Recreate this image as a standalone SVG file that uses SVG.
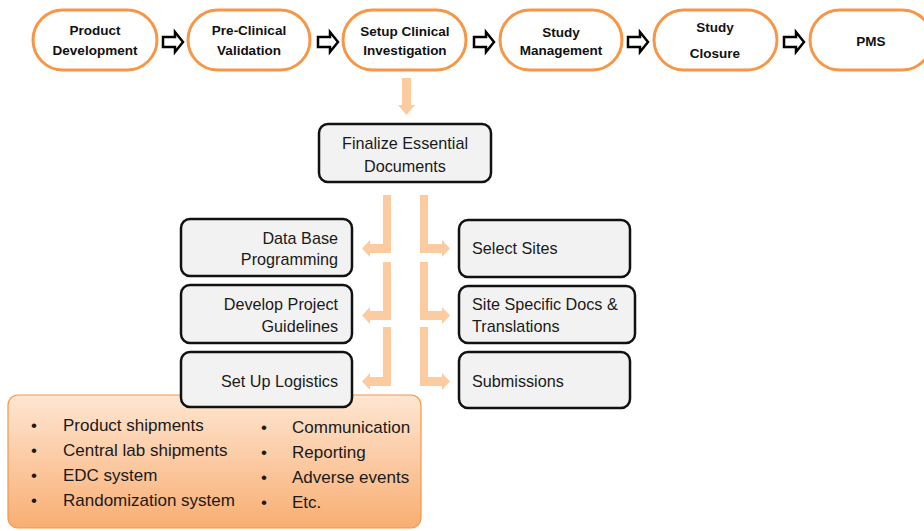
<svg xmlns="http://www.w3.org/2000/svg" width="924" height="531" viewBox="0 0 924 531">
<style>
.pill{fill:#fff;stroke:#F79646;stroke-width:3}
.pt{font-family:"Liberation Sans",Arial,sans-serif;font-weight:bold;font-size:13.5px;fill:#111;text-anchor:middle}
.box{fill:#F2F2F2;stroke:#111;stroke-width:2.5}
.bt{font-family:"Liberation Sans",Arial,sans-serif;font-size:16.2px;fill:#1a1a1a}
.harr{fill:#fff;stroke:#000;stroke-width:2.5;stroke-linejoin:miter}
.oarr{fill:#FDCBA0}
.lt{font-family:"Liberation Sans",Arial,sans-serif;font-size:17px;fill:#1a1a1a}
</style>
<defs>
<linearGradient id="og" x1="0" y1="0" x2="0" y2="1">
<stop offset="0" stop-color="#FEE6D2"/>
<stop offset="1" stop-color="#F9AE72"/>
</linearGradient>
<path id="ha" d="M0,-5 L12,-5 L12,-10 L20,0 L12,10 L12,5 L0,5 Z"/>
</defs>

<g id="n-product-development"><rect class="pill" x="33" y="10" width="124" height="60" rx="30"/><text class="pt" x="95" y="35">Product</text><text class="pt" x="95" y="55">Development</text></g>
<g id="n-preclinical"><rect class="pill" x="188" y="10" width="122" height="60" rx="30"/><text class="pt" x="249" y="35">Pre-Clinical</text><text class="pt" x="249" y="55">Validation</text></g>
<g id="n-setup"><rect class="pill" x="343" y="10" width="123" height="60" rx="30"/><text class="pt" x="405" y="36">Setup Clinical</text><text class="pt" x="405" y="55">Investigation</text></g>
<g id="n-study-management"><rect class="pill" x="500" y="10" width="122" height="60" rx="30"/><text class="pt" x="561" y="37">Study</text><text class="pt" x="561" y="55">Management</text></g>
<g id="n-study-closure"><rect class="pill" x="654" y="10" width="123" height="60" rx="30"/><text class="pt" x="715" y="32">Study</text><text class="pt" x="715" y="58">Closure</text></g>
<g id="n-pms"><rect class="pill" x="810" y="10" width="122" height="60" rx="30"/><text class="pt" x="871" y="46">PMS</text></g>

<g id="n-logistics-detail">
<rect x="8" y="395" width="413" height="133" rx="10" fill="url(#og)" stroke="#F79646" stroke-width="1.2"/>
<g class="lt">
<text x="31" y="431">•</text><text x="63" y="431">Product shipments</text>
<text x="31" y="456">•</text><text x="63" y="456">Central lab shipments</text>
<text x="31" y="481">•</text><text x="63" y="481">EDC system</text>
<text x="31" y="506">•</text><text x="63" y="506">Randomization system</text>
<text x="261" y="433">•</text><text x="292" y="433">Communication</text>
<text x="261" y="458">•</text><text x="292" y="458">Reporting</text>
<text x="261" y="483">•</text><text x="292" y="483">Adverse events</text>
<text x="261" y="508">•</text><text x="292" y="508">Etc.</text>
</g>
</g>

<g id="n-finalize"><rect class="box" x="319" y="124" width="172" height="58" rx="9"/><text class="bt" x="405" y="149" text-anchor="middle">Finalize Essential</text><text class="bt" x="405" y="172" text-anchor="middle">Documents</text></g>
<g id="n-database"><rect class="box" x="181" y="219" width="171" height="57" rx="9"/><text class="bt" x="338" y="244" text-anchor="end">Data Base</text><text class="bt" x="338" y="265" text-anchor="end">Programming</text></g>
<g id="n-guidelines"><rect class="box" x="181" y="285" width="171" height="58" rx="9"/><text class="bt" x="338" y="310" text-anchor="end">Develop Project</text><text class="bt" x="338" y="332" text-anchor="end">Guidelines</text></g>
<g id="n-logistics"><rect class="box" x="181" y="352" width="171" height="55" rx="9"/><text class="bt" x="338" y="387" text-anchor="end">Set Up Logistics</text></g>
<g id="n-select-sites"><rect class="box" x="459" y="220" width="171" height="57" rx="9"/><text class="bt" x="472" y="254">Select Sites</text></g>
<g id="n-site-docs"><rect class="box" x="459" y="286" width="176" height="57" rx="9"/><text class="bt" x="472" y="310">Site Specific Docs &amp;</text><text class="bt" x="472" y="332">Translations</text></g>
<g id="n-submissions"><rect class="box" x="459" y="352" width="171" height="56" rx="9"/><text class="bt" x="472" y="387">Submissions</text></g>

<g id="connectors">
<use href="#ha" class="harr" x="163" y="42"/>
<use href="#ha" class="harr" x="318" y="42"/>
<use href="#ha" class="harr" x="474" y="42"/>
<use href="#ha" class="harr" x="628" y="42"/>
<use href="#ha" class="harr" x="784" y="42"/>
<path class="oarr" d="M402,78 L411,78 L411,105 L415,105 L406.5,115 L398,105 L402,105 Z"/>
<path class="oarr" d="M391,195 L391,253 L370,253 L370,257 L362,248.5 L370,240 L370,244 L383,244 L383,195 Z"/>
<path class="oarr" d="M391,262 L391,320 L370,320 L370,324 L362,315.5 L370,307 L370,311 L383,311 L383,262 Z"/>
<path class="oarr" d="M391,327 L391,386 L370,386 L370,390 L362,381.5 L370,373 L370,377 L383,377 L383,327 Z"/>
<path class="oarr" d="M420,195 L420,253 L442,253 L442,257 L450,248.5 L442,240 L442,244 L428,244 L428,195 Z"/>
<path class="oarr" d="M420,262 L420,320 L442,320 L442,324 L450,315.5 L442,307 L442,311 L428,311 L428,262 Z"/>
<path class="oarr" d="M420,327 L420,386 L442,386 L442,390 L450,381.5 L442,373 L442,377 L428,377 L428,327 Z"/>
</g>
</svg>
